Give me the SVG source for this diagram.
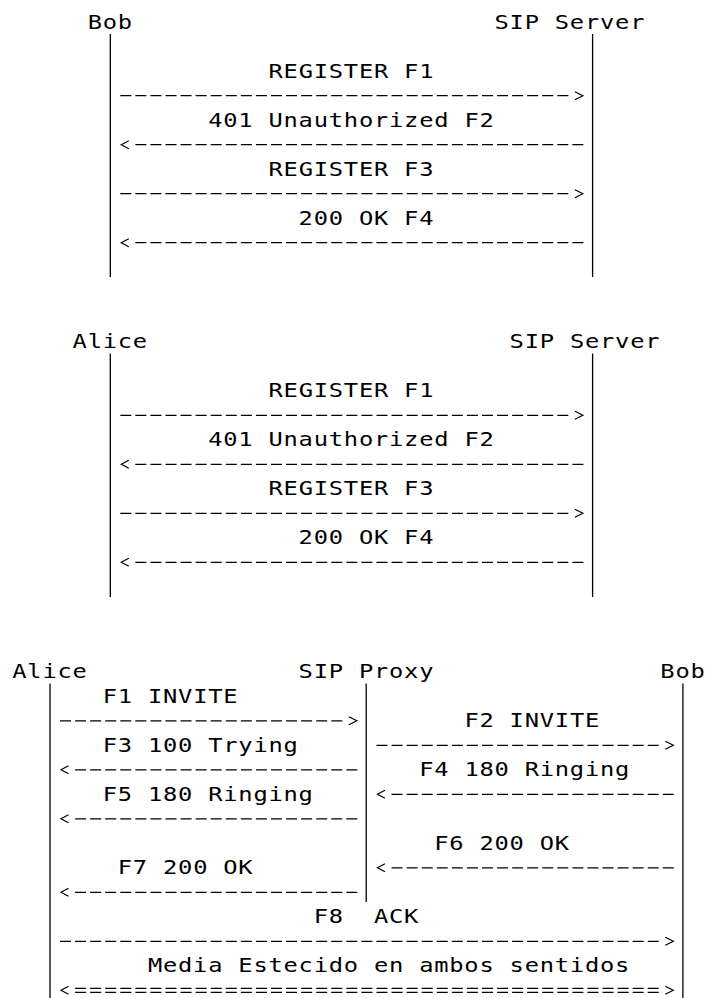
<svg xmlns="http://www.w3.org/2000/svg" width="706" height="998" viewBox="0 0 706 998">
<style>
text { font-family: "DejaVu Sans Mono", "Liberation Mono", monospace; font-size: 19px; letter-spacing: 0.62px; fill: #000; white-space: pre; transform: scale(1.25, 1); transform-origin: 0 0; }
.life { stroke: #000; stroke-width: 1.3; }
.msg { stroke: #000; stroke-width: 1.2; stroke-dasharray: 11 4.07; fill: none; }
.head { stroke: #000; stroke-width: 1.2; fill: none; }
</style>
<rect width="706" height="998" fill="#fff"/>

<!-- Diagram 1 -->
<g id="d1-bob"><text x="70.12" y="28.7">Bob</text><line class="life" x1="110.3" y1="34" x2="110.3" y2="277"/></g>
<g id="d1-server"><text x="395.63" y="28.7">SIP Server</text><line class="life" x1="592.6" y1="34" x2="592.6" y2="277"/></g>

<!-- Diagram 2 -->
<g id="d2-alice"><text x="58.06" y="348.3">Alice</text><line class="life" x1="110.3" y1="353.5" x2="110.3" y2="597"/></g>
<g id="d2-server"><text x="407.69" y="348.3">SIP Server</text><line class="life" x1="592.6" y1="353.5" x2="592.6" y2="597"/></g>

<!-- Diagram 3 -->
<g id="d3-alice"><text x="9.84" y="678.3">Alice</text><line class="life" x1="50" y1="683.5" x2="50" y2="998"/></g>
<g id="d3-proxy"><text x="238.9" y="678.3">SIP Proxy</text><line class="life" x1="366.2" y1="683.5" x2="366.2" y2="902"/></g>
<g id="d3-bob"><text x="528.25" y="678.3">Bob</text><line class="life" x1="682.9" y1="683.5" x2="682.9" y2="998"/></g>

<g id="connectors">
  <!-- Diagram 1 messages -->
  <g id="d1-f1"><text x="214.79" y="77.7">REGISTER F1</text><line class="msg" x1="120.29" y1="95.7" x2="568.32" y2="95.7"/><polyline class="head" points="574.89,91.7 582.89,95.7 574.89,99.7"/></g>
  <g id="d1-f2"><text x="166.57" y="126.7">401 Unauthorized F2</text><line class="msg" x1="135.36" y1="144.7" x2="583.39" y2="144.7"/><polyline class="head" points="128.79,140.7 121.29,144.7 128.79,148.7"/></g>
  <g id="d1-f3"><text x="214.79" y="175.7">REGISTER F3</text><line class="msg" x1="120.29" y1="193.7" x2="568.32" y2="193.7"/><polyline class="head" points="574.89,189.7 582.89,193.7 574.89,197.7"/></g>
  <g id="d1-f4"><text x="238.9" y="224.7">200 OK F4</text><line class="msg" x1="135.36" y1="242.7" x2="583.39" y2="242.7"/><polyline class="head" points="128.79,238.7 121.29,242.7 128.79,246.7"/></g>

  <!-- Diagram 2 messages -->
  <g id="d2-f1"><text x="214.79" y="397.3">REGISTER F1</text><line class="msg" x1="120.29" y1="415.3" x2="568.32" y2="415.3"/><polyline class="head" points="574.89,411.3 582.89,415.3 574.89,419.3"/></g>
  <g id="d2-f2"><text x="166.57" y="446.3">401 Unauthorized F2</text><line class="msg" x1="135.36" y1="464.3" x2="583.39" y2="464.3"/><polyline class="head" points="128.79,460.3 121.29,464.3 128.79,468.3"/></g>
  <g id="d2-f3"><text x="214.79" y="495.3">REGISTER F3</text><line class="msg" x1="120.29" y1="513.3" x2="568.32" y2="513.3"/><polyline class="head" points="574.89,509.3 582.89,513.3 574.89,517.3"/></g>
  <g id="d2-f4"><text x="238.9" y="544.3">200 OK F4</text><line class="msg" x1="135.36" y1="562.3" x2="583.39" y2="562.3"/><polyline class="head" points="128.79,558.3 121.29,562.3 128.79,566.3"/></g>

  <!-- Diagram 3 messages -->
  <g id="d3-f1"><text x="82.18" y="702.8">F1 INVITE</text><line class="msg" x1="60.01" y1="720.8" x2="342.27" y2="720.8"/><polyline class="head" points="348.84,716.8 356.84,720.8 348.84,724.8"/></g>
  <g id="d3-f2"><text x="371.52" y="727.3">F2 INVITE</text><line class="msg" x1="376.48" y1="745.3" x2="658.74" y2="745.3"/><polyline class="head" points="665.31,741.3 673.31,745.3 665.31,749.3"/></g>
  <g id="d3-f3"><text x="82.18" y="751.8">F3 100 Trying</text><line class="msg" x1="75.08" y1="769.8" x2="357.34" y2="769.8"/><polyline class="head" points="68.51,765.8 61.01,769.8 68.51,773.8"/></g>
  <g id="d3-f4"><text x="335.35" y="776.3">F4 180 Ringing</text><line class="msg" x1="391.55" y1="794.3" x2="673.81" y2="794.3"/><polyline class="head" points="384.98,790.3 377.48,794.3 384.98,798.3"/></g>
  <g id="d3-f5"><text x="82.18" y="800.8">F5 180 Ringing</text><line class="msg" x1="75.08" y1="818.8" x2="357.34" y2="818.8"/><polyline class="head" points="68.51,814.8 61.01,818.8 68.51,822.8"/></g>
  <g id="d3-f6"><text x="347.41" y="849.8">F6 200 OK</text><line class="msg" x1="391.55" y1="867.8" x2="673.81" y2="867.8"/><polyline class="head" points="384.98,863.8 377.48,867.8 384.98,871.8"/></g>
  <g id="d3-f7"><text x="94.23" y="874.3">F7 200 OK</text><line class="msg" x1="75.08" y1="892.3" x2="357.34" y2="892.3"/><polyline class="head" points="68.51,888.3 61.01,892.3 68.51,896.3"/></g>
  <g id="d3-f8"><text x="250.96" y="923.3" xml:space="preserve">F8  ACK</text><line class="msg" x1="60.01" y1="941.3" x2="658.74" y2="941.3"/><polyline class="head" points="665.31,937.3 673.31,941.3 665.31,945.3"/></g>
  <g id="d3-media"><text x="118.34" y="972.3">Media Estecido en ambos sentidos</text><line class="msg" x1="75.08" y1="988.3" x2="658.74" y2="988.3"/><line class="msg" x1="75.08" y1="992.3" x2="658.74" y2="992.3"/><polyline class="head" points="68.51,986.3 61.01,990.3 68.51,994.3"/><polyline class="head" points="665.31,986.3 673.31,990.3 665.31,994.3"/></g>
</g>
</svg>
